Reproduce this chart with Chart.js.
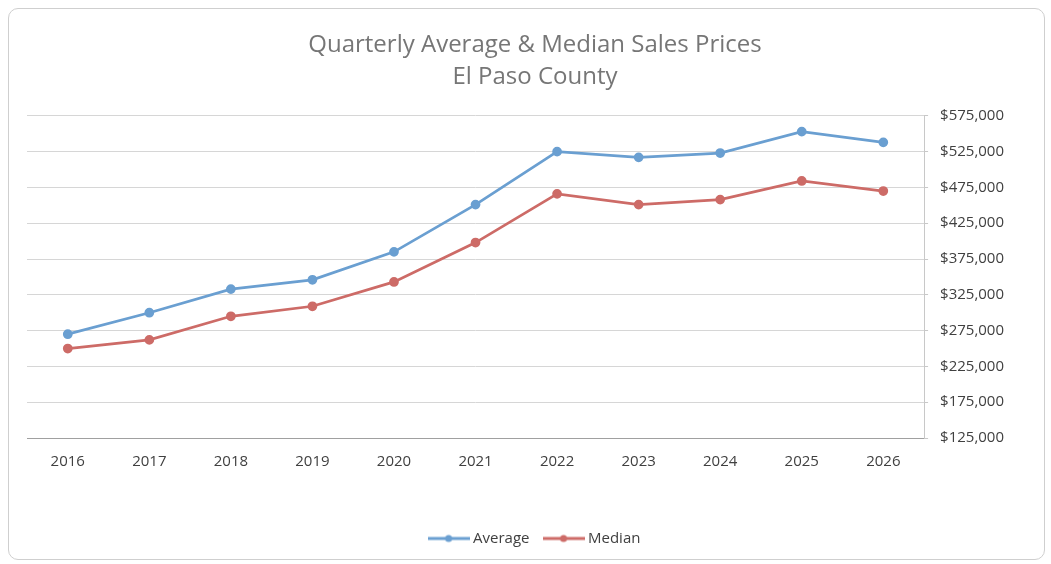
<!DOCTYPE html>
<html>
<head>
<meta charset="utf-8">
<script src="https://cdn.jsdelivr.net/npm/chart.js@4.4.1/dist/chart.umd.min.js"></script>
<style>
  html, body { margin: 0; padding: 0; background: #fff; }
  #frame {
    position: absolute; left: 8px; top: 8px; width: 1035px; height: 550px;
    border: 1px solid #cfcfcf; border-radius: 10px;
  }
  #wrap { position: absolute; left: 0; top: 0; width: 1051px; height: 564px; }
</style>
</head>
<body>
<div id="frame"></div>
<div id="wrap"><canvas id="priceChart"></canvas></div>
<script>
// yearly quarterly prices, El Paso County
var years = ['2016', '2017', '2018', '2019', '2020', '2021', '2022', '2023', '2024', '2025', '2026'];
var averagePrices = [270000, 300000, 333000, 346000, 385000, 451000, 525000, 517000, 523000, 553000, 538000];
var medianPrices = [250000, 262000, 295000, 309000, 343000, 398000, 466000, 451000, 458000, 484000, 470000];
var yTicks = [125000, 175000, 225000, 275000, 325000, 375000, 425000, 475000, 525000, 575000];

var blue = '#6a9fd1';
var red = '#cd6b67';
var fontFamily = "'Open Sans', 'DejaVu Sans', sans-serif";

// small line + dot sample for the legend
function legendMarker(color) {
  var c = document.createElement('canvas');
  c.width = 42;
  c.height = 10;
  var g = c.getContext('2d');
  g.strokeStyle = color;
  g.lineWidth = 3;
  g.beginPath();
  g.moveTo(0, 5);
  g.lineTo(42, 5);
  g.stroke();
  g.fillStyle = color;
  g.beginPath();
  g.arc(21, 5, 3.5, 0, Math.PI * 2);
  g.fill();
  return c;
}

// title and legend sit centred on the frame, not on the padded area
var centerBoxes = {
  id: 'centerBoxes',
  afterLayout: function(chart) {
    [[chart.titleBlock, 535], [chart.legend, 536]].forEach(function(pair) {
      var box = pair[0];
      if (!box) return;
      var w = box.right - box.left;
      box.left = pair[1] - w / 2;
      box.right = pair[1] + w / 2;
    });
  }
};

document.addEventListener('DOMContentLoaded', function() {
  var ctx = document.getElementById('priceChart').getContext('2d');
  var markers = [legendMarker(blue), legendMarker(red)];

  new Chart(ctx, {
    type: 'line',
    data: {
      labels: years,
      datasets: [
        {
          label: 'Average',
          data: averagePrices,
          borderColor: blue,
          backgroundColor: blue,
          borderWidth: 2.75,
          pointRadius: 3.5,
          pointHoverRadius: 5,
          tension: 0
        },
        {
          label: 'Median',
          data: medianPrices,
          borderColor: red,
          backgroundColor: red,
          borderWidth: 2.75,
          pointRadius: 3.5,
          pointHoverRadius: 5,
          tension: 0
        }
      ]
    },
    plugins: [centerBoxes],
    options: {
      responsive: true,
      maintainAspectRatio: false,
      animation: false,
      layout: {
        padding: { left: 27, right: 35, top: 29, bottom: 8 }
      },
      plugins: {
        title: {
          display: true,
          text: ['Quarterly Average & Median Sales Prices', 'El Paso County'],
          color: '#767676',
          font: { family: fontFamily, size: 24, weight: 'normal', lineHeight: 1.33 },
          padding: { top: 0, bottom: 23 }
        },
        legend: {
          position: 'bottom',
          labels: {
            color: '#404040',
            font: { family: fontFamily, size: 15 },
            usePointStyle: true,
            pointStyleWidth: 34,
            padding: 17,
            generateLabels: function(chart) {
              var items = Chart.defaults.plugins.legend.labels.generateLabels(chart);
              items.forEach(function(item, i) {
                item.pointStyle = markers[i];
              });
              return items;
            }
          }
        },
        tooltip: { enabled: false }
      },
      scales: {
        x: {
          offset: true,
          grid: { display: false, drawTicks: false },
          border: { display: true, color: '#a0a0a0', width: 1 },
          ticks: {
            color: '#404040',
            font: { family: fontFamily, size: 15 },
            padding: 15
          },
          afterFit: function(scale) {
            scale.height += 28;
          }
        },
        y: {
          position: 'right',
          min: 125000,
          max: 575000,
          afterBuildTicks: function(scale) {
            scale.ticks = yTicks.map(function(v) { return { value: v }; });
          },
          grid: { color: '#d6d6d6', lineWidth: 1, tickLength: 4, tickColor: '#c8c8c8' },
          border: { display: true, color: '#c8c8c8' },
          ticks: {
            color: '#404040',
            font: { family: fontFamily, size: 15 },
            padding: 12,
            callback: function(value) {
              return '$' + Number(value).toLocaleString('en-US');
            }
          }
        }
      }
    }
  });
});
</script>
</body>
</html>
